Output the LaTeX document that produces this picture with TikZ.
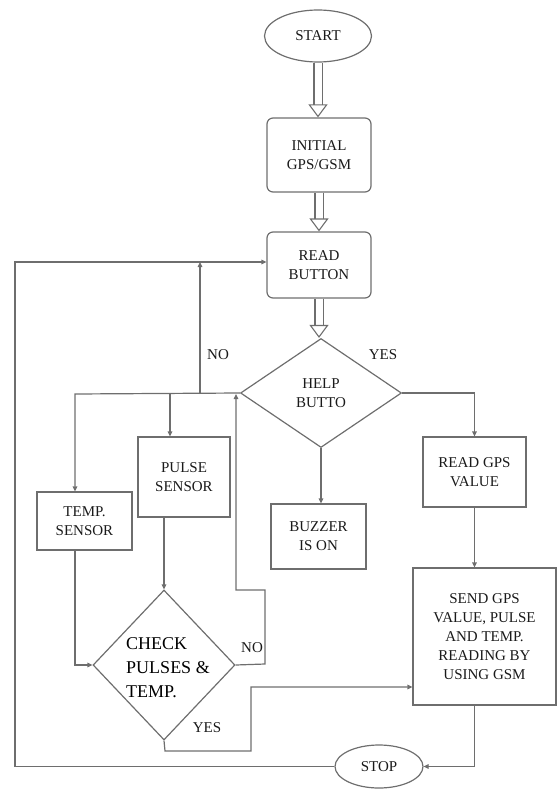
\documentclass[tikz,border=0pt]{standalone}
\usepackage{fontspec}
\setmainfont{Liberation Serif}
\usetikzlibrary{arrows.meta,positioning,shapes.geometric,calc}
\definecolor{lineink}{HTML}{6E6E6E}
\definecolor{textink}{HTML}{1A1A1A}

\begin{document}
\begin{tikzpicture}[x=1pt,y=-1pt,
  term/.style={ellipse,draw=lineink,line width=1.2pt,inner sep=0pt,
    minimum width=107pt,minimum height=52pt,
    font=\fontsize{15}{18}\selectfont,text=textink},
  rbox/.style={draw=lineink,line width=1.2pt,rounded corners=6pt,inner sep=0pt,
    minimum width=104pt,minimum height=70pt,align=center,
    font=\fontsize{15}{19}\selectfont,text=textink},
  box/.style={draw=lineink,line width=1.2pt,inner sep=0pt,align=center,
    font=\fontsize{15}{19}\selectfont,text=textink},
  dec/.style={diamond,draw=lineink,line width=1.2pt,inner sep=0pt,align=center,
    font=\fontsize{15}{19}\selectfont,text=textink},
  arr/.style={-{Triangle[length=5pt,width=4.5pt]},draw=lineink,line width=1.2pt},
  hollow/.style={draw=lineink,line width=1.1pt,double=white,double distance=7pt,
    -{Triangle[open,length=13pt,width=19pt]}},
  lbl/.style={font=\fontsize{15}{18}\selectfont,text=textink}
]
\useasboundingbox (0,0) rectangle (558,789);

% main column
\node[term] (start) at (318,36) {START};
\node[rbox,minimum height=74pt] (init) at (319,155) {INITIAL\\GPS/GSM};
\node[rbox,minimum height=66pt] (read) at (319,265) {READ\\BUTTON};
\node[dec,minimum width=161pt,minimum height=109pt] (help) at (321,393) {HELP\\BUTTO};

\draw[hollow] (start.south) -- (start.south |- init.north);
\draw[hollow] (init) -- (read);
\draw[hollow] (read.south) -- (read.south |- help.north);

% right side
\node[box,minimum width=103pt,minimum height=70pt] (gps) at (474.5,472) {READ GPS\\VALUE};
\node[box,minimum width=95pt,minimum height=65pt] (buzz) at (318.5,536.5) {BUZZER\\IS ON};
\node[box,minimum width=143pt,minimum height=137pt] (send) at (484.5,636.5)
  {SEND GPS\\VALUE, PULSE\\AND TEMP.\\READING BY\\USING GSM};
\node[term,minimum width=88pt,minimum height=43pt] (stop) at (379,766.5) {STOP};

% left side
\node[box,minimum width=95pt,minimum height=58pt] (temp) at (84.5,521) {TEMP.\\SENSOR};
\node[box,minimum width=92pt,minimum height=80pt] (pulse) at (184,477) {PULSE\\SENSOR};
\node[dec,minimum width=142pt,minimum height=150pt] (check) at (164,665) {};
\node[font=\fontsize{18}{24}\selectfont,text=black,align=left] (checktxt) at (168,668)
  {CHECK\\PULSES \&\\TEMP.};

% helper points
\coordinate (loop) at (15,262);
\coordinate (tl) at (75,394);
\coordinate (pl) at (170,394);
\coordinate (nl) at (200,394);
\coordinate (na) at (265,664);
\coordinate (nb) at (236,590);
\coordinate (ya) at (165,751);
\coordinate (yb) at (251,687);

\draw[arr] (help.east) -| (gps.north);
\draw[arr] (help.south) -- (help.south |- buzz.north);
\draw[arr] (gps.south) -- (gps.south |- send.north);
\draw[arr] (gps.south |- send.south) |- (stop.east);
\draw[arr] (stop.west) -| (loop) -- (loop -| read.west);

\draw[arr] (help.west) -- (tl) -- (tl |- temp.north);
\draw[arr] (pl) -- (pl |- pulse.north);
\draw[arr] (nl) -- (nl |- loop);
\draw[arr] (tl |- temp.south) |- (check.west);
\draw[arr] (check.north |- pulse.south) -- (check.north);
\draw[arr] (check.east) -- (na) |- (nb) -- (nb |- tl);
\draw[arr] (check.south) -- (ya) -| (yb) -- (yb -| send.west);

% branch labels
\node[lbl] (yes1) at (383,355) {YES};
\node[lbl] (no1) at (218,355) {NO};
\node[lbl] (no2) at (252,648) {NO};
\node[lbl] (yes2) at (207,728) {YES};
\end{tikzpicture}
\end{document}
